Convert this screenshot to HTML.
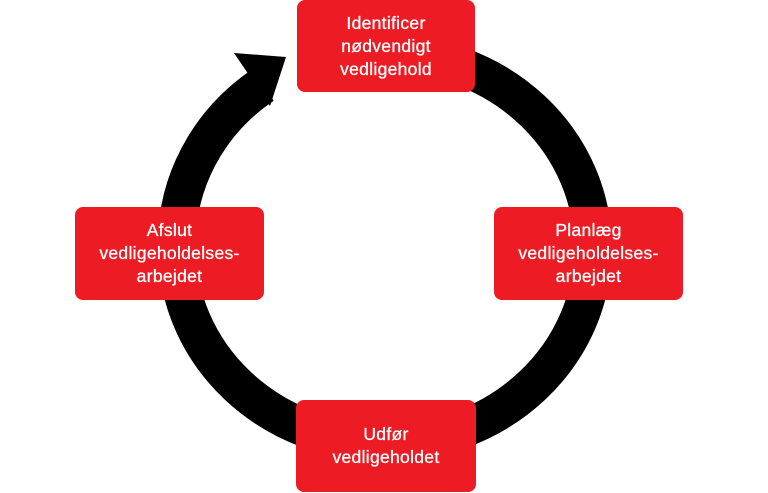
<!DOCTYPE html>
<html><head><meta charset="utf-8"><style>
html,body{margin:0;padding:0;background:#fff;width:768px;height:493px;overflow:hidden}
.b{position:absolute;background:#ed1c24;border-radius:8px;color:#fff;font-family:"Liberation Sans",sans-serif;font-size:17.5px;line-height:23px;text-align:center;display:flex;align-items:center;justify-content:center;letter-spacing:0.3px;-webkit-text-stroke:0.3px #fff}
svg{position:absolute;left:0;top:0}
</style></head><body>
<svg width="768" height="493">
<path d="M385 53 A208 195 0 0 1 385 443 A208 195 0 0 1 177 248 A208 195 0 0 1 263 85" fill="none" stroke="#000" stroke-width="38"/>
<polygon points="234,53 286,57 270,106" fill="#000"/>
</svg>
<div class="b" style="left:297px;top:0;width:178px;height:92px">Identificer<br>nødvendigt<br>vedligehold</div>
<div class="b" style="left:494px;top:207px;width:189px;height:93px">Planlæg<br>vedligeholdelses-<br>arbejdet</div>
<div class="b" style="left:75px;top:207px;width:189px;height:93px">Afslut<br>vedligeholdelses-<br>arbejdet</div>
<div class="b" style="left:296px;top:400px;width:180px;height:92px">Udfør<br>vedligeholdet</div>
</body></html>
